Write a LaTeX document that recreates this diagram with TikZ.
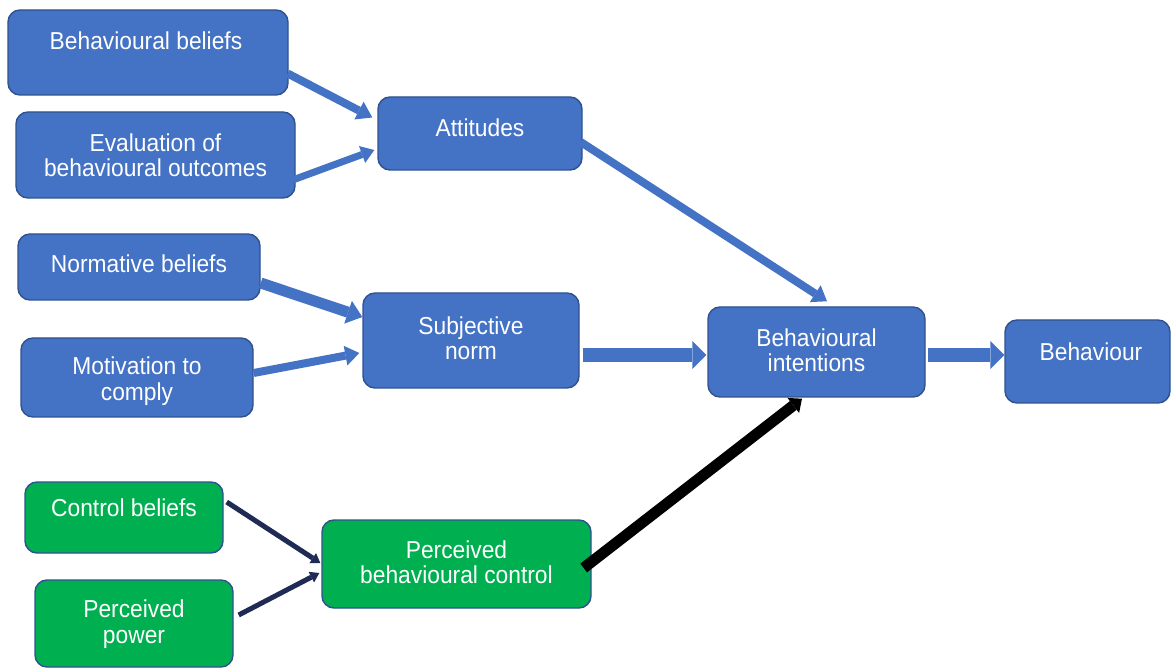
\documentclass[tikz,border=0pt]{standalone}
\usepackage{fontspec}
\setmainfont{Liberation Sans}[FakeStretch=0.93]
\usetikzlibrary{arrows.meta,calc}
\definecolor{boxblue}{HTML}{4472C4}
\definecolor{edgeblue}{HTML}{2F528F}
\definecolor{boxgreen}{HTML}{00B050}
\definecolor{navyline}{HTML}{1F2A55}
\begin{document}
\begin{tikzpicture}[x=1pt,y=-1pt,
  box/.style={draw=edgeblue, line width=1.4pt, rounded corners=12pt, inner sep=0pt},
  bluebox/.style={box, fill=boxblue},
  greenbox/.style={box, fill=boxgreen},
  txt/.style={text=white, align=center, font=\fontsize{24.5}{25.5}\selectfont, inner sep=0pt},
  bluearrow/.style={draw=boxblue},
  navyarrow/.style={draw=navyline, line width=5pt, -{Triangle[length=9pt,width=12pt,line width=0pt]}},
  blackarrow/.style={draw=black, line width=11pt, -{Triangle[length=11pt,width=19pt,line width=0pt]}}
]
\fill[white] (0,0) rectangle (1171,668);
\useasboundingbox (0,0) rectangle (1171,668);

% boxes
\node[bluebox, minimum width=280pt, minimum height=85pt] (bb) at (148,52.5) {};
\node[bluebox, minimum width=279pt, minimum height=86pt] (ev) at (155.5,155) {};
\node[bluebox, minimum width=204pt, minimum height=73pt] (att) at (480,133.5) {};
\node[bluebox, minimum width=242pt, minimum height=66pt] (nb) at (139,267) {};
\node[bluebox, minimum width=232pt, minimum height=79pt] (mc) at (137,377.5) {};
\node[bluebox, minimum width=216pt, minimum height=95pt] (sn) at (471,340.5) {};
\node[bluebox, minimum width=217pt, minimum height=90pt] (bi) at (816.5,352) {};
\node[bluebox, minimum width=165pt, minimum height=83pt] (bh) at (1087.5,361.5) {};
\node[greenbox, minimum width=198pt, minimum height=71pt] (cb) at (124,517.5) {};
\node[greenbox, minimum width=198pt, minimum height=87pt] (pp) at (134,623.5) {};
\node[greenbox, minimum width=269pt, minimum height=88pt] (pbc) at (456.5,564) {};

% texts
\node[txt] (bbt) at (146,41) {Behavioural beliefs};
\node[txt] (evt) at (155.5,155) {Evaluation of\\behavioural outcomes};
\node[txt] (attt) at (480,128) {Attitudes};
\node[txt] (nbt) at (139,264) {Normative beliefs};
\node[txt] (mct) at (137,381) {Motivation to\\comply};
\node[txt] (snt) at (471,338) {Subjective\\norm};
\node[txt] (bit) at (816.5,350) {Behavioural\\intentions};
\node[txt] (bht) at (1091,352) {Behaviour};
\node[txt] (cbt) at (124,508) {Control beliefs};
\node[txt] (ppt) at (134,624) {Perceived\\power};
\node[txt] (pbct) at (456.5,562) {Perceived\\behavioural control};

% arrows
\draw[bluearrow, line width=8pt, -{Triangle[length=15pt,width=20pt,line width=0pt]}]
  ($(bb.east)+(-1,21)$) -- ($(att.west)+(-5,-16)$);
\draw[bluearrow, line width=7pt, -{Triangle[length=13pt,width=18pt,line width=0pt]}]
  ($(ev.east)+(-3,25)$) -- ($(att.west)+(-3,16.5)$);
\draw[bluearrow, line width=11pt, -{Triangle[length=15pt,width=24pt,line width=0pt]}]
  ($(nb.east)+(0,16)$) -- ($(sn.west)+(0,-23.5)$);
\draw[bluearrow, line width=8pt, -{Triangle[length=14pt,width=20pt,line width=0pt]}]
  ($(mc.east)+(0,-4.5)$) -- ($(sn.west)+(-3,12.5)$);
\draw[bluearrow, line width=8pt, -{Triangle[length=14pt,width=20pt,line width=0pt]}]
  ($(att.east)+(-2,8.5)$) -- ($(bi.north)+(10.5,-5)$);
\draw[bluearrow, line width=14pt, -{Triangle[length=14pt,width=28pt,line width=0pt]}]
  ($(sn.east)+(3,14.5)$) -- ($(bi.west)+(-1,3)$);
\draw[bluearrow, line width=14pt, -{Triangle[length=14pt,width=28pt,line width=0pt]}]
  ($(bi.east)+(2,3)$) -- ($(bh.west)+(0,-6.5)$);
\draw[navyarrow] ($(cb.east)+(3,-15.5)$) -- ($(pbc.west)+(-1,-1)$);
\draw[navyarrow] ($(pp.east)+(5,-8.5)$) -- ($(pbc.west)+(-2,9)$);
\draw[blackarrow] ($(pbc.east)+(-8,4)$) -- ($(bi.south)+(-14.5,1)$);
\end{tikzpicture}
\end{document}
